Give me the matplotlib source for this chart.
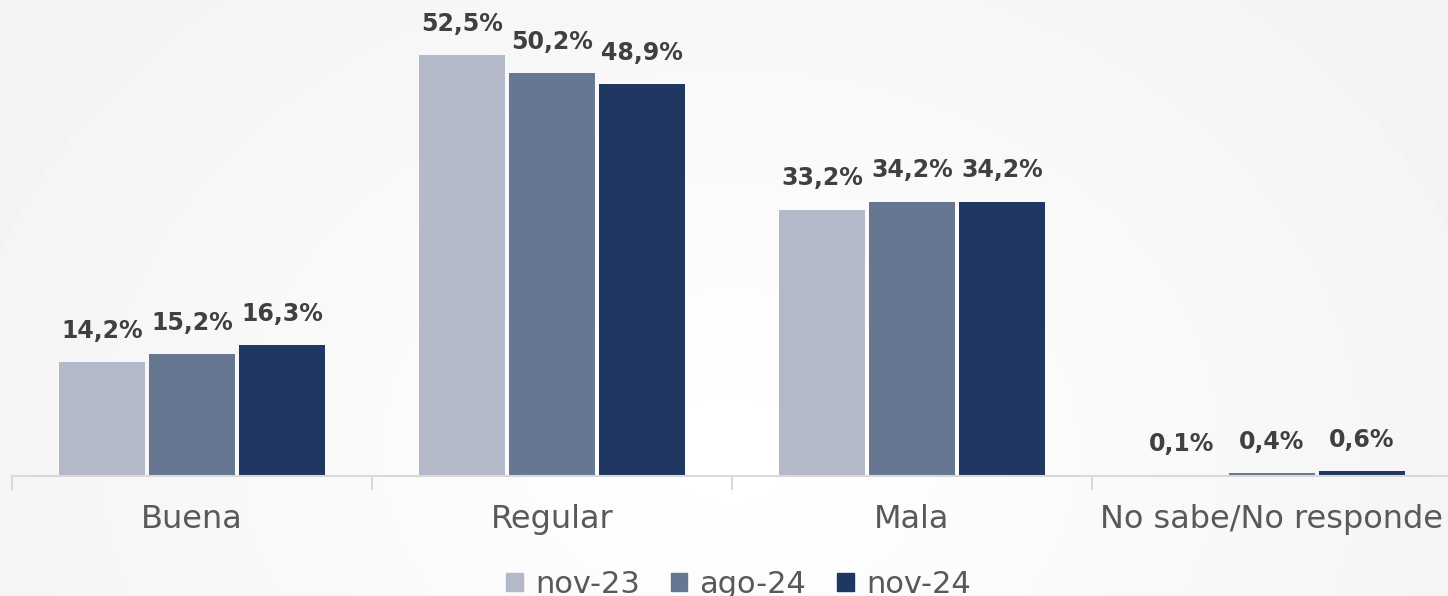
import numpy as np
import matplotlib.pyplot as plt
from matplotlib.patches import Patch

categories = ['Buena', 'Regular', 'Mala', 'No sabe/No responde']
series = ['nov-23', 'ago-24', 'nov-24']
nov23 = [14.2, 52.5, 33.2, 0.1]
ago24 = [15.2, 50.2, 34.2, 0.4]
nov24 = [16.3, 48.9, 34.2, 0.6]
colors = ['#b3b9c9', '#677792', '#203761']

fig = plt.figure(figsize=(14.48, 5.96), dpi=100)

# soft radial background
bg = fig.add_axes([0, 0, 1, 1], zorder=-10)
yy, xx = np.mgrid[0:596, 0:1448]
r = np.sqrt(((xx - 730) / 900.0) ** 2 + ((yy - 450) / 700.0) ** 2)
shade = 1.0 - 0.05 * np.clip(r, 0, 1)
bg.imshow(shade, cmap='gray', vmin=0, vmax=1, aspect='auto', interpolation='bilinear')
bg.axis('off')

ax = fig.add_axes([12 / 1448, 120 / 596, 1440 / 1448, 476 / 596])
ax.patch.set_alpha(0)

x = np.arange(len(categories))
w = 0.239
step = 0.25
for i, (vals, c) in enumerate(zip([nov23, ago24, nov24], colors)):
    pos = x + (i - 1) * step
    ax.bar(pos, vals, width=w, color=c, zorder=2)
    for p, v in zip(pos, vals):
        ax.text(p, v + 2.4, ('%.1f%%' % v).replace('.', ','), ha='center', va='bottom',
                fontsize=17, fontweight='bold', color='#404040')

ax.set_xlim(-0.5, 3.5)
ax.set_ylim(0, 476 / 8.02)
for s in ['top', 'right', 'left']:
    ax.spines[s].set_visible(False)
ax.spines['bottom'].set_color('#d9d9d9')
ax.spines['bottom'].set_linewidth(1.5)
ax.set_yticks([])
ax.set_xticks(np.arange(-0.5, 3.6, 1.0))
ax.set_xticklabels([])
ax.set_xticks(x, minor=True)
ax.set_xticklabels(categories, minor=True, fontsize=23, color='#595959')
ax.tick_params(axis='x', which='major', length=10, width=1.5, color='#d9d9d9')
ax.tick_params(axis='x', which='minor', length=0, pad=20)

handles = [Patch(color=c, label=s) for c, s in zip(colors, series)]
fig.legend(handles=handles, loc='center', bbox_to_anchor=(0.51, 0.02), ncol=3,
           frameon=False, fontsize=22, labelcolor='#595959', handlelength=0.55,
           handleheight=0.55, handletextpad=0.4, columnspacing=1.0)

fig.savefig('out.png', dpi=100)
